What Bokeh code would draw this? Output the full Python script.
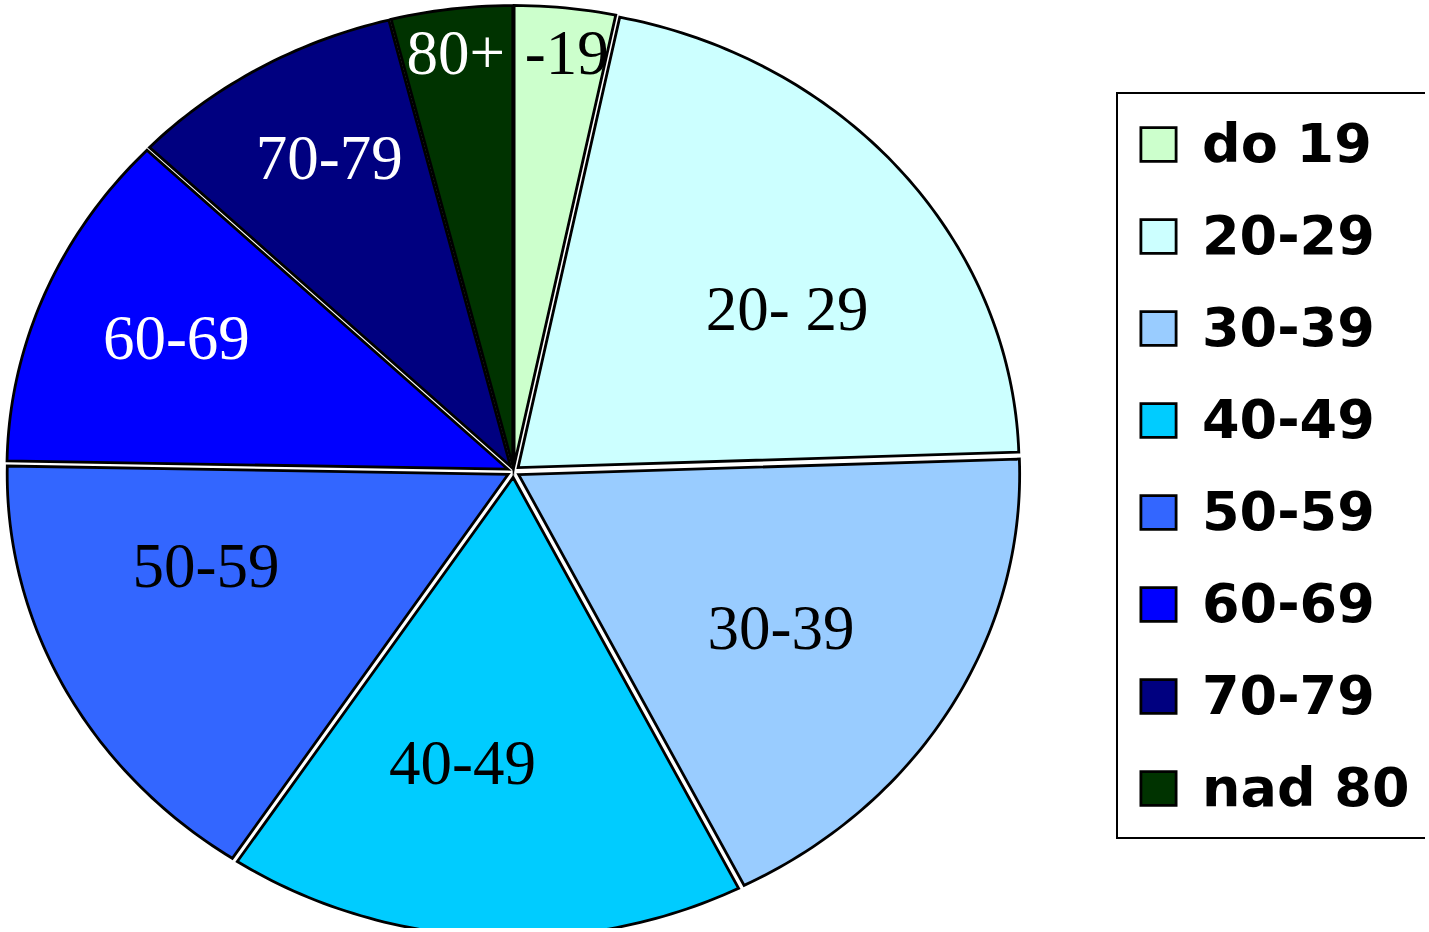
import numpy as np
from bokeh.plotting import figure
from bokeh.models import ColumnDataSource, Legend, LegendItem, Range1d
from bokeh.embed import file_html
from bokeh.resources import INLINE
from bokeh.core.properties import value

# ---- data ----
categories = ["do 19", "20-29", "30-39", "40-49", "50-59", "60-69", "70-79", "nad 80"]
slice_labels = ["-19", "20- 29", "30-39", "40-49", "50-59", "60-69", "70-79", "80+"]
shares = [3.25, 21.2, 18.1, 16.7, 16.0, 11.9, 8.9, 3.9]
colors = ["#CCFFCC", "#CCFFFF", "#99CCFF", "#00CCFF", "#3366FF", "#0000FF", "#000080", "#003300"]
label_colors = ["black", "black", "black", "black", "black", "white", "white", "white"]

# ---- layout / style ----
label_r = [0.917, 0.650, 0.633, 0.641, 0.647, 0.733, 0.775, 0.918]
label_shift_deg = [0.8, 7.3, 1.85, 5.8, 9.3, 0.9, 1.75, -0.2]
W, H = 1425, 928
PX_X, PX_Y = 501.0, 460.0          # pixels per data unit (pie is stretched horizontally)
CX, CY = 513.0, 471.0              # pie centre in canvas pixels (from top-left)
EXPLODE_PX = 6.0

vals = np.array(shares, dtype=float)
frac = vals / vals.sum()
ends = np.cumsum(frac) * 2 * np.pi
starts = ends - frac * 2 * np.pi
mids = (starts + ends) / 2

xs, ys = [], []
for a0, a1, am in zip(starts, ends, mids):
    ox = EXPLODE_PX / PX_X * np.sin(am)
    oy = EXPLODE_PX / PX_Y * np.cos(am)
    t = np.linspace(a0, a1, max(8, int((a1 - a0) / (2 * np.pi) * 400)))
    xs.append(list(np.concatenate([[0.0], np.sin(t), [0.0]]) + ox))
    ys.append(list(np.concatenate([[0.0], np.cos(t), [0.0]]) + oy))

src = ColumnDataSource(dict(xs=xs, ys=ys, color=colors, cat=categories))

la = mids + np.radians(label_shift_deg)
lsrc = ColumnDataSource(dict(
    x=np.array(label_r) * np.sin(la),
    y=np.array(label_r) * np.cos(la),
    text=slice_labels, tc=label_colors))

p = figure(width=W, height=H, output_backend="svg", toolbar_location=None,
           x_range=Range1d(-CX / PX_X, (W - CX) / PX_X),
           y_range=Range1d(-(H - CY) / PX_Y, CY / PX_Y),
           min_border=0)
p.axis.visible = False
p.grid.visible = False
p.outline_line_color = None
p.background_fill_color = "white"
p.border_fill_color = "white"

r = p.patches("xs", "ys", source=src, fill_color="color", line_color="black",
              line_width=2.8, line_join="miter")

p.text("x", "y", text="text", source=lsrc, text_color="tc",
       text_align="center", text_baseline="middle",
       text_font=value("Liberation Serif"), text_font_size="63px")

items = [LegendItem(label=c, renderers=[r], index=i) for i, c in enumerate(categories)]
legend = Legend(items=items, location=(1116, 89), orientation="vertical",
                glyph_width=44, glyph_height=42, label_height=42, label_width=320,
                label_standoff=22, spacing=29, padding=18, margin=0,
                label_text_font="DejaVu Sans", label_text_font_style="bold",
                label_text_font_size="54px", label_text_color="black",
                border_line_color="black", border_line_width=2.2, border_line_alpha=1.0,
                background_fill_color="white", background_fill_alpha=1.0)
p.add_layout(legend)

open("out.html", "w").write(file_html(p, INLINE))
